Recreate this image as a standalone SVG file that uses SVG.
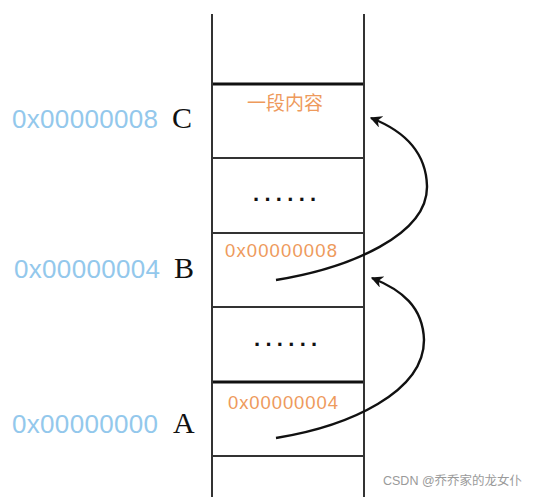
<svg xmlns="http://www.w3.org/2000/svg" width="536" height="497" viewBox="0 0 536 497">
<style>
.addr{font-family:"Liberation Sans","Noto Sans",sans-serif;font-size:26px;fill:#93c8ec}
.let{font-family:"Liberation Serif",serif;font-size:30px;fill:#111}
.val{font-family:"Liberation Sans","Noto Sans",sans-serif;font-size:18.5px;fill:#ee9a5c}
.cjk{font-family:"Noto Sans CJK SC",sans-serif;font-size:19px;fill:#ee9a5c}
.dots{font-family:"Liberation Sans",sans-serif;font-size:22px;font-weight:bold;fill:#111;letter-spacing:5.3px}
.wm{font-family:"Liberation Sans","Noto Sans CJK SC",sans-serif;font-size:12.5px;fill:#9a9a9a}
.side{stroke:#333;stroke-width:2;fill:none}
.row{stroke:#333;stroke-width:2;fill:none}
.rowb{stroke:#111;stroke-width:3;fill:none}
.arc{stroke:#111;stroke-width:2.4;fill:none;marker-end:url(#ah)}
</style>
<defs>
<marker id="ah" viewBox="0 0 10 10" refX="9" refY="5" markerWidth="5" markerHeight="5" orient="auto" markerUnits="strokeWidth">
<path d="M0,0 L10,5 L0,10 L3,5 Z" fill="#111"/>
</marker>
</defs>
<rect width="536" height="497" fill="#fff"/>
<g id="stack">
<line class="side" x1="212" y1="14" x2="212" y2="497"/>
<line class="side" x1="364" y1="14" x2="364" y2="497"/>
<line class="rowb" x1="213" y1="84" x2="363" y2="84"/>
<line class="row" x1="213" y1="158" x2="363" y2="158"/>
<line class="row" x1="213" y1="233" x2="363" y2="233"/>
<line class="row" x1="213" y1="307" x2="363" y2="307"/>
<line class="rowb" x1="213" y1="382" x2="363" y2="382"/>
<line class="row" x1="213" y1="456" x2="363" y2="456"/>
</g>
<g id="nodeC">
<text class="addr" x="12" y="128" textLength="146">0x00000008</text>
<text class="let" x="172" y="128">C</text>
<text class="cjk" x="247" y="110" textLength="76">一段内容</text>
</g>
<g id="dots1"><text class="dots" x="253" y="201">......</text></g>
<g id="nodeB">
<text class="addr" x="14" y="278" textLength="146">0x00000004</text>
<text class="let" x="174" y="278">B</text>
<text class="val" x="225" y="257" textLength="112">0x00000008</text>
</g>
<g id="dots2"><text class="dots" x="254" y="346">......</text></g>
<g id="nodeA">
<text class="addr" x="12" y="433" textLength="146">0x00000000</text>
<text class="let" x="173" y="433">A</text>
<text class="val" x="228" y="409" textLength="110">0x00000004</text>
</g>
<g id="connectors">
<path class="arc" d="M276,280 C350,268 428,235 427,186 C426,150 402,130 371,118"/>
<path class="arc" d="M276,438 C350,426 424,392 424,340 C423,307 402,290 372,278"/>
</g>
<text class="wm" x="383" y="485">CSDN @乔乔家的龙女仆</text>
</svg>
